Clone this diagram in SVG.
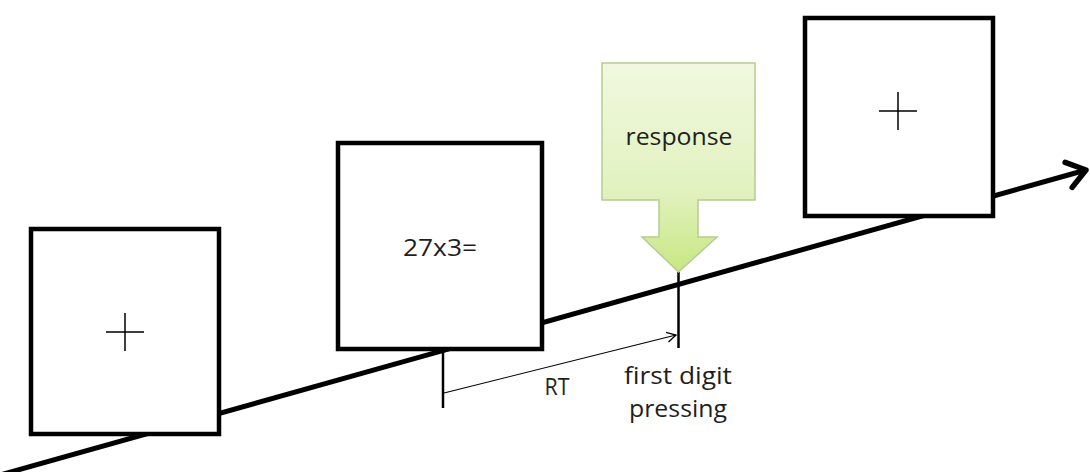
<svg xmlns="http://www.w3.org/2000/svg" width="1090" height="472" viewBox="0 0 1090 472">
<style>
.box{fill:#fff;stroke:#000;stroke-width:4.5}
.cross{stroke:#000;stroke-width:1.5;fill:none}
.lbl{font-family:"Open Sans","Noto Sans","Liberation Sans",sans-serif;fill:#1e1e1e;text-anchor:middle;font-size:24px}
.tick{stroke:#000;stroke-width:2.5}
</style>
<defs>
<linearGradient id="g" x1="0" y1="63" x2="0" y2="272" gradientUnits="userSpaceOnUse">
<stop offset="0" stop-color="#f1f8df"/>
<stop offset="0.6" stop-color="#e2f2c0"/>
<stop offset="1" stop-color="#c8e783"/>
</linearGradient>
<marker id="big" markerUnits="userSpaceOnUse" markerWidth="40" markerHeight="40" viewBox="-30 -20 40 40" refX="0" refY="0" orient="auto">
<path d="M-18,-13 L0,0 L-18,13" fill="none" stroke="#000" stroke-width="5.5" stroke-linecap="round" stroke-linejoin="round"/>
</marker>
<marker id="small" markerUnits="userSpaceOnUse" markerWidth="20" markerHeight="20" viewBox="-15 -10 20 20" refX="0" refY="0" orient="auto">
<path d="M-9,-5 L0,0 L-9,5" fill="none" stroke="#000" stroke-width="1.3"/>
</marker>
</defs>
<g id="connectors">
<line id="timeline" x1="0" y1="475" x2="1086" y2="170" stroke="#000" stroke-width="5" marker-end="url(#big)"/>
<line id="tick-onset" class="tick" x1="443" y1="350" x2="443" y2="408"/>
<line id="tick-response" class="tick" x1="678.5" y1="272" x2="678.5" y2="348"/>
<line id="rt-arrow" x1="444" y1="393" x2="676" y2="335" stroke="#000" stroke-width="1.2" marker-end="url(#small)"/>
</g>
<g id="fixation1">
<rect class="box" x="31" y="229" width="188" height="205"/>
<path class="cross" d="M106,332 H144 M125,313 V351"/>
</g>
<g id="problem">
<rect class="box" x="338" y="143" width="204" height="206"/>
<text class="lbl" x="440" y="256" textLength="74" lengthAdjust="spacingAndGlyphs">27x3=</text>
</g>
<g id="fixation2">
<rect class="box" x="805" y="18" width="188" height="198"/>
<path class="cross" d="M879,111 H917 M898,92 V130"/>
</g>
<g id="response">
<path d="M602,63 H755 V200 H698 V237 H717 L678.5,272 L642,237 H659 V200 H602 Z" fill="url(#g)" stroke="#b7cc92" stroke-width="1.5"/>
<text class="lbl" x="679" y="145" textLength="107" lengthAdjust="spacingAndGlyphs">response</text>
</g>
<g id="labels">
<text class="lbl" x="557" y="395" textLength="25" lengthAdjust="spacingAndGlyphs">RT</text>
<text class="lbl" x="678" y="384" textLength="108" lengthAdjust="spacingAndGlyphs">first digit</text>
<text class="lbl" x="678" y="417" textLength="98" lengthAdjust="spacingAndGlyphs">pressing</text>
</g>
</svg>
